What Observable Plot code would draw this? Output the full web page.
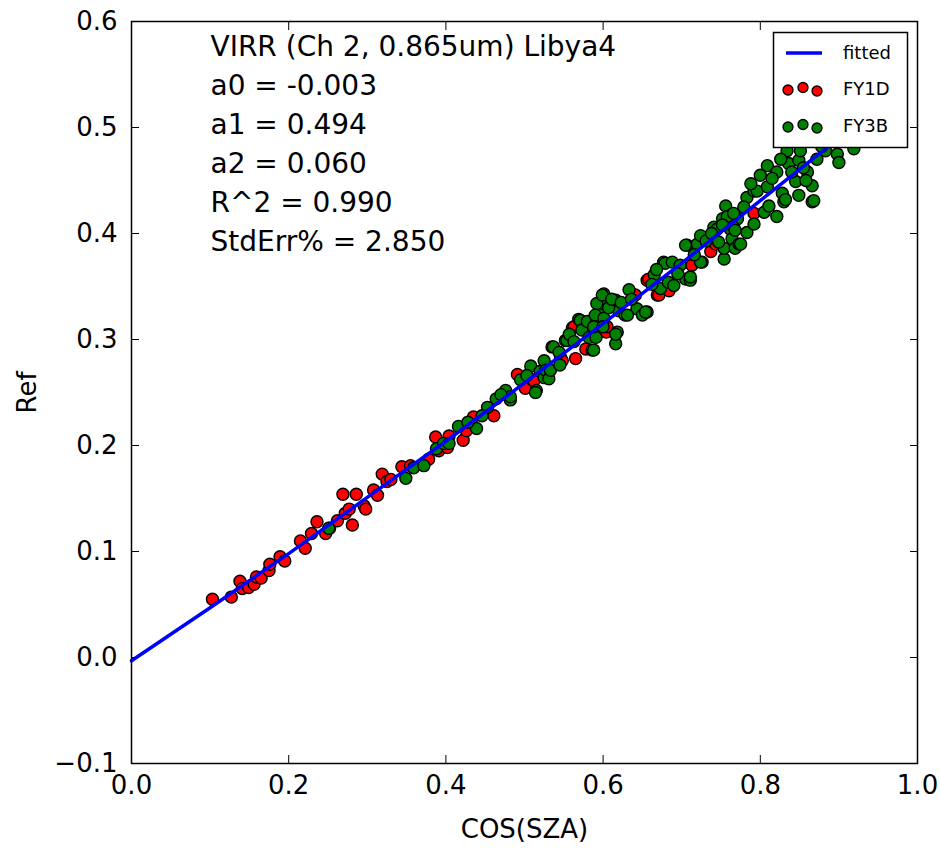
<!DOCTYPE html>
<html>
<head>
<meta charset="utf-8">
<script src="https://cdn.jsdelivr.net/npm/d3@7"></script>
<script src="https://cdn.jsdelivr.net/npm/@observablehq/plot@0.6"></script>
<style>
  html, body { margin: 0; padding: 0; background: white; }
  #wrap { position: relative; width: 940px; height: 850px; }
  #wrap svg { position: absolute; left: 0; top: 0; }
</style>
</head>
<body>
<div id="wrap"></div>
<script>
// ---- data ----
const xTicks = [0, 0.2, 0.4, 0.6, 0.8, 1.0];
const yTicks = [-0.1, 0, 0.1, 0.2, 0.3, 0.4, 0.5, 0.6];

const annoLines = [
  "VIRR (Ch 2, 0.865um) Libya4",
  "a0 = -0.003",
  "a1 = 0.494",
  "a2 = 0.060",
  "R^2 = 0.990",
  "StdErr% = 2.850"
];

const seriesNames = ["fitted", "FY1D", "FY3B"];

// fitted curve, sampled
const fitX = [0, 0.1, 0.2, 0.3, 0.4, 0.5, 0.6, 0.7, 0.8, 0.9, 0.92];
const fitY = [-0.003, 0.047, 0.098, 0.151, 0.204, 0.259, 0.315, 0.372, 0.431, 0.490, 0.503];

// FY1D (red)
const fy1dX = [0.103,0.127,0.138,0.141,0.149,0.156,0.159,0.165,0.175,0.176,0.189,0.195,0.215,0.221,0.229,0.236,0.247,0.252,0.262,
  0.269,0.286,0.272,0.281,0.277,0.296,0.298,0.308,0.313,0.319,0.325,0.330,0.344,0.355,0.378,0.387,0.391,0.402,0.404,0.422,0.426,
  0.435,0.461,0.491,0.501,0.510,0.512,0.535,0.546,0.548,0.565,0.561,0.563,0.578,0.604,0.605,0.641,0.656,0.658,0.669,0.671,0.684,
  0.713,0.737,0.743,0.792];
const fy1dY = [0.055,0.057,0.072,0.065,0.066,0.069,0.076,0.075,0.082,0.088,0.095,0.091,0.110,0.103,0.117,0.128,0.117,0.122,0.129,
  0.154,0.154,0.136,0.125,0.140,0.143,0.140,0.158,0.153,0.173,0.166,0.168,0.180,0.181,0.187,0.208,0.195,0.198,0.209,0.205,0.214,
  0.227,0.228,0.267,0.254,0.262,0.261,0.293,0.283,0.280,0.282,0.311,0.312,0.291,0.307,0.312,0.342,0.356,0.357,0.342,0.342,0.346,
  0.370,0.383,0.390,0.419];

// FY3B (green)
const fy3bX = [0.251,0.349,0.359,0.372,0.388,0.397,0.404,0.416,0.439,0.453,0.464,0.476,0.482,0.482,0.495,0.508,0.515,0.514,0.520,
  0.525,0.525,0.527,0.531,0.533,0.537,0.544,0.552,0.554,0.569,0.571,0.573,0.580,0.582,0.586,0.588,0.591,0.592,0.597,0.599,0.601,
  0.592,0.590,0.601,0.588,0.599,0.616,0.620,0.633,0.628,0.643,0.650,0.616,0.618,0.616,0.631,0.656,0.654,0.665,0.673,0.677,0.683,
  0.690,0.679,0.688,0.698,0.705,0.711,0.707,0.705,0.711,0.720,0.726,0.724,0.724,0.741,0.745,0.752,0.754,0.754,0.756,0.762,0.764,
  0.768,0.771,0.758,0.752,0.766,0.766,0.773,0.775,0.783,0.783,0.792,0.796,0.800,0.805,0.809,0.809,0.811,0.821,0.821,0.828,0.830,
  0.832,0.836,0.845,0.849,0.849,0.860,0.866,0.866,0.868,0.858,0.834,0.851,0.872,0.883,0.898,0.900,0.919,0.768,0.792,
  0.600,0.607,0.611,0.623,0.636,0.662,0.668,0.695,0.716,0.731,0.738,0.747,0.779,0.788,0.815,0.826,0.840,0.855,0.878,0.889,
  0.545,0.557,0.563,0.503,0.470,0.446,0.428];
const fy3bY = [0.122,0.169,0.179,0.181,0.197,0.202,0.202,0.218,0.216,0.236,0.244,0.252,0.243,0.246,0.262,0.275,0.252,0.250,0.270,
  0.280,0.264,0.271,0.263,0.271,0.293,0.288,0.299,0.299,0.319,0.318,0.309,0.317,0.302,0.290,0.290,0.302,0.317,0.327,0.334,0.343,
  0.334,0.323,0.320,0.312,0.342,0.337,0.327,0.347,0.323,0.329,0.323,0.296,0.307,0.305,0.323,0.326,0.326,0.361,0.348,0.373,0.354,
  0.351,0.372,0.373,0.370,0.357,0.356,0.389,0.389,0.359,0.390,0.373,0.398,0.373,0.406,0.404,0.414,0.376,0.386,0.426,0.404,0.395,
  0.386,0.414,0.416,0.408,0.406,0.419,0.390,0.390,0.434,0.401,0.440,0.440,0.455,0.420,0.464,0.444,0.426,0.416,0.458,0.438,0.430,
  0.432,0.466,0.449,0.436,0.469,0.458,0.445,0.430,0.431,0.450,0.478,0.478,0.470,0.478,0.475,0.467,0.480,0.403,0.409,
  0.312,0.330,0.338,0.335,0.338,0.352,0.366,0.362,0.380,0.393,0.400,0.392,0.425,0.447,0.452,0.470,0.458,0.462,0.482,0.490,
  0.276,0.305,0.298,0.266,0.248,0.228,0.222];

// ---- build tables ----
const fitData = fitX.map((x, i) => ({x, y: fitY[i]}));
const redData = fy1dX.map((x, i) => ({x, y: fy1dY[i]}));
const greenData = fy3bX.map((x, i) => ({x, y: fy3bY[i]}));
const fmt = d3.format(".1f");
const FONT = "DejaVu Sans";

const plot = Plot.plot({
  width: 940,
  height: 850,
  marginLeft: 131,
  marginRight: 23,
  marginTop: 21,
  marginBottom: 87,
  style: {fontFamily: FONT, fontSize: "26px", color: "black", background: "white"},
  x: {domain: [0, 1]},
  y: {domain: [-0.1, 0.6]},
  marks: [
    Plot.dot(redData, {x: "x", y: "y", r: 6, fill: "#ff0000", stroke: "black", strokeWidth: 1.4}),
    Plot.dot(greenData, {x: "x", y: "y", r: 6, fill: "#008000", stroke: "black", strokeWidth: 1.4}),
    Plot.line(fitData, {x: "x", y: "y", stroke: "#0000ff", strokeWidth: 3.5}),
    Plot.frame({stroke: "black", strokeWidth: 1.5}),
    // labels
    Plot.axisX({anchor: "bottom", ticks: xTicks, tickFormat: fmt, tickSize: 0, tickPadding: 12, fontSize: 26,
      label: "COS(SZA)", labelAnchor: "center", labelOffset: 74, labelArrow: "none"}),
    Plot.axisY({anchor: "left", ticks: yTicks, tickFormat: fmt, tickSize: 0, tickPadding: 14, fontSize: 26,
      label: "Ref", labelAnchor: "center", labelOffset: 114, labelArrow: "none"}),
    // inward ticks
    Plot.axisX({anchor: "bottom", ticks: xTicks, tickSize: -8, text: null, fill: "none", label: null, strokeWidth: 1}),
    Plot.axisX({anchor: "top", ticks: xTicks, tickSize: -8, text: null, fill: "none", label: null, strokeWidth: 1}),
    Plot.axisY({anchor: "left", ticks: yTicks, tickSize: -8, text: null, fill: "none", label: null, strokeWidth: 1}),
    Plot.axisY({anchor: "right", ticks: yTicks, tickSize: -8, text: null, fill: "none", label: null, strokeWidth: 1}),
    // annotation
    Plot.text([annoLines.join("\n")], {text: d => d, frameAnchor: "top-left", dx: 79, dy: 7,
      lineAnchor: "top", textAnchor: "start", lineHeight: 1.39, fontSize: 28, fill: "black"})
  ]
});
document.getElementById("wrap").appendChild(plot);

// ---- legend overlay ----
const leg = d3.select("#wrap").append("svg")
  .attr("width", 940).attr("height", 850)
  .style("pointer-events", "none")
  .attr("font-family", FONT);
leg.append("rect").attr("x", 773.5).attr("y", 32.5).attr("width", 134).attr("height", 115)
  .attr("fill", "white").attr("stroke", "black").attr("stroke-width", 1.5);
const rowY = [53, 89, 126];
leg.append("line").attr("x1", 786).attr("x2", 822).attr("y1", rowY[0]).attr("y2", rowY[0])
  .attr("stroke", "#0000ff").attr("stroke-width", 3.5);
const fills = [null, "#ff0000", "#008000"];
const offs = [1, -1.5, 2];
[1, 2].forEach(k => {
  [788, 803, 817].forEach((cx, j) => {
    leg.append("circle").attr("cx", cx).attr("cy", rowY[k] + offs[j]).attr("r", 5)
      .attr("fill", fills[k]).attr("stroke", "black").attr("stroke-width", 1.3);
  });
});
seriesNames.forEach((name, k) => {
  leg.append("text").attr("x", 843).attr("y", rowY[k]).attr("dy", "0.35em")
    .attr("font-size", 18).attr("fill", "black").text(name);
});
</script>
</body>
</html>
